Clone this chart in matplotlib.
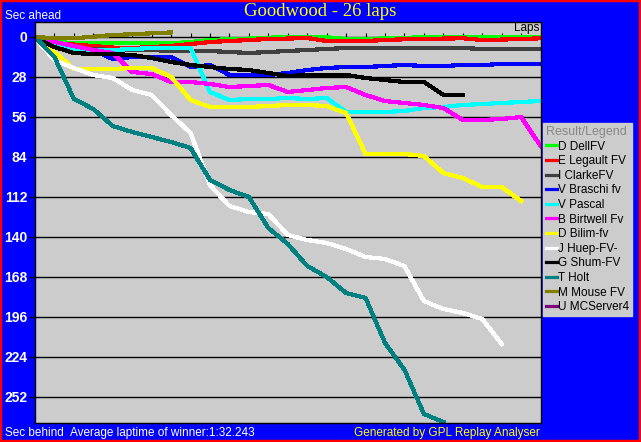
#!/usr/bin/env python3

import matplotlib
matplotlib.use('Agg')
import matplotlib.pyplot as plt
from matplotlib.patches import Rectangle

W, H = 641, 442

laps = list(range(27))
drivers = ['D DellFV', 'E Legault FV', 'I ClarkeFV', 'V Braschi fv', 'V Pascal',
           'B Birtwell Fv', 'D Bilim-fv', 'J Huep-FV-', 'G Shum-FV', 'T Holt',
           'M Mouse FV', 'U MCServer4']
colors = ['#00ff00', '#ff0000', '#404040', '#0000ff', '#00ffff', '#ff00ff',
          '#ffff00', '#ffffff', '#000000', '#008080', '#808000', '#800080']

# seconds behind per lap (negative = ahead)
dell = [0, 3.2, 4.4, 4.4, 4.4, 4.4, 4.4, 4.4, 3.5, 2.1, 1.6, 1.1, 0.5, 0, 0, 0.2,
        1.4, 1.6, 0.9, 0.7, 0, 0.2, 0.2, 0.2, 0.2, 0, -0.2]
legault = [0, 4.6, 5.3, 6.3, 7.4, 7.7, 7.0, 6.3, 4.9, 3.5, 2.8, 2.1, 1.4, 1.1, 0.7,
           2.8, 2.8, 2.8, 2.1, 1.6, 1.4, 1.1, 0.9, 2.1, 1.8, 1.4, 0.9]
clarke = [0, 6.3, 8.4, 8.4, 9.1, 9.1, 9.1, 9.8, 9.8, 9.8, 10.5, 11.2, 10.5, 9.8, 9.1,
          8.4, 7.7, 7.7, 7.7, 7.7, 7.7, 7.7, 7.7, 8.4, 8.4, 8.4, 8.4]
braschi = [0, 4.2, 8.4, 9.1, 15.4, 14, 14, 14, 21, 19.6, 26.6, 26.6, 26.6, 25.2, 23.1,
           21.7, 21, 21, 20.3, 19.6, 20.3, 20.3, 19.6, 19.6, 18.9, 18.9, 18.9]
pascal = [0.7, 4.9, 9.1, 9.1, 9.1, 8.4, 7.7, 7.7, 7.7, 38.5, 44.1, 43.4, 43.4, 42.7,
          43.4, 42.7, 52.5, 52.5, 52.5, 51.8, 49.7, 49, 47.6, 46.9, 46.2, 45.5, 44.8]
birtwell = [0, 3.5, 6.3, 9.1, 11.2, 24.5, 25.9, 31.5, 31.5, 32.9, 35, 34.3, 33.6, 38.5,
            37.1, 35.7, 35, 40.6, 44.8, 46.2, 47.6, 49.7, 58.1, 58.1, 57.4, 56, 76.3]
bilim = [1.4, 10.5, 22.4, 22.4, 22.4, 21.7, 21.7, 28, 44.1, 49, 49, 49, 48.3, 47.6,
         47.6, 48.3, 53.2, 81.9, 81.9, 81.9, 83.3, 95.2, 98.7, 105, 105, 114.8]
huep = [0.7, 16.1, 21.7, 26.6, 28.7, 37.1, 40.6, 54.6, 67.2, 103.6, 118.3, 122.5, 123.9,
        138.6, 142.1, 144.2, 148.4, 154, 155.4, 160.3, 184.8, 190.4, 193.2, 197.4, 214.9]
shum = [0.7, 7, 11.2, 11.9, 11.9, 12.6, 14.7, 17.5, 19.6, 21, 22.4, 23.1, 25.2, 27.3,
        26.6, 26.6, 26.6, 28.7, 30.1, 31.5, 31.5, 40.6, 40.6]
holt = [0, 14, 43.4, 50.4, 62.3, 66.5, 70, 73.5, 77.7, 100.1, 107.1, 112, 133.7, 144.9,
        160.3, 168, 179.2, 182.7, 214.2, 233, 263.9, 269.5]
mouse = [0, 0.9, 0.9, -0.2, -1.4, -1.9, -2.6, -3.2]
mcserver = []

series = [dell, legault, clarke, braschi, pascal, birtwell, bilim, huep, shum, holt,
          mouse, mcserver]
yticks = list(range(0, 253, 28))

fig = plt.figure(figsize=(W / 100, H / 100), dpi=100)
fig.patch.set_facecolor('#0000ff')
fig.patches.append(Rectangle((0, 0), 1, 1, transform=fig.transFigure, fill=False,
                             edgecolor='#ff0000', linewidth=3.2))

ax = fig.add_axes([35 / W, 1 - 423 / H, 506 / W, 401 / H])
ax.set_facecolor('#cccccc')
for sp in ax.spines.values():
    sp.set_color('black')
    sp.set_linewidth(1)

ax.set_xlim(0, 26.02)
ax.set_ylim(270.2, -10.5)
ax.set_yticks(yticks)
ax.set_yticklabels([str(v) for v in yticks], color='white', fontweight='bold',
                   fontsize=10, family='Liberation Sans')
ax.tick_params(axis='y', length=4, width=1, color='black', pad=1.5)
ax.set_xticks([])
ax.yaxis.grid(True, color='black', linewidth=1)
ax.set_axisbelow(True)

# lap tick marks sitting on the zero line
ax.vlines(laps[1:-1], -2.8, 0, color='black', linewidth=0.8, zorder=1)
ax.text(25.95, -6.5, 'Laps', ha='right', va='center', fontsize=8.5,
        family='Liberation Sans', color='black')

handles = []
for name, c, vals in zip(drivers, colors, series):
    ln, = ax.plot(laps[:len(vals)], vals, color=c, linewidth=2.3, label=name,
                  antialiased=False, solid_joinstyle='miter', zorder=2)
    handles.append(ln)

leg = fig.legend(handles=handles, loc='upper left', bbox_to_anchor=(543 / W, 1 - 123 / H),
                 title='Result/Legend', fontsize=8.5, title_fontsize=8.5,
                 facecolor='#cccccc', edgecolor='#cccccc', fancybox=False, framealpha=1,
                 handlelength=0.9, handletextpad=0.15, labelspacing=0.22,
                 borderpad=0.25, borderaxespad=0, alignment='left',
                 prop={'family': 'Liberation Sans', 'size': 8.5})
leg.get_title().set_color('#888888')
leg.get_title().set_family('Liberation Sans')
leg.get_title().set_fontsize(9)
for t in leg.get_texts():
    t.set_color('black')

fig.text(320 / W, 1 - 12 / H, 'Goodwood - 26 laps', ha='center', va='center',
         color='#ffff00', fontsize=13.5, family='Liberation Serif')
fig.text(5 / W, 1 - 16 / H, 'Sec ahead', ha='left', va='center', color='white',
         fontsize=8.5, family='Liberation Sans')
fig.text(5 / W, 1 - 433 / H, 'Sec behind', ha='left', va='center', color='white',
         fontsize=8.5, family='Liberation Sans')
fig.text(70 / W, 1 - 433 / H, 'Average laptime of winner:1:32.243', ha='left',
         va='center', color='white', fontsize=8.5, family='Liberation Sans')
fig.text(540 / W, 1 - 433 / H, 'Generated by GPL Replay Analyser', ha='right',
         va='center', color='#ffff00', fontsize=8.5, family='Liberation Sans')

plt.savefig('out.png', dpi=100, facecolor=fig.get_facecolor())
